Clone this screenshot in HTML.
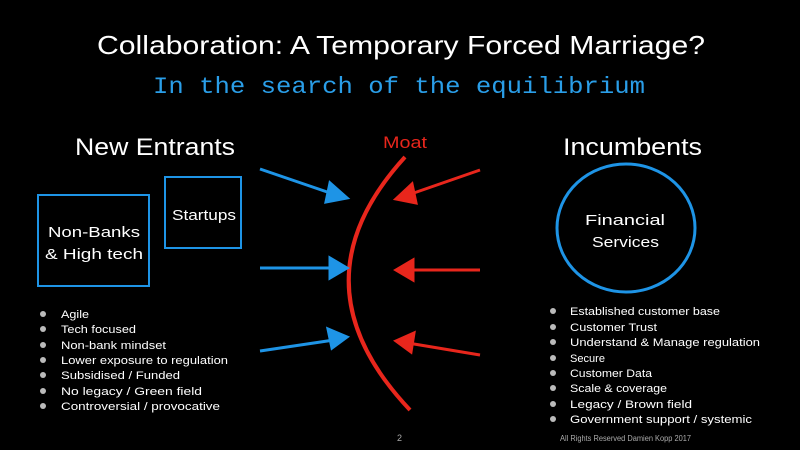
<!DOCTYPE html>
<html><head><meta charset="utf-8"><style>html,body{margin:0;padding:0;background:#000;}svg{display:block}</style></head>
<body>
<svg width="800" height="450" viewBox="0 0 800 450" xmlns="http://www.w3.org/2000/svg">
<rect width="800" height="450" fill="#000"/>
<g font-family="Liberation Sans, sans-serif" fill="#fff">
<text x="97" y="54" font-size="26" textLength="608" lengthAdjust="spacingAndGlyphs">Collaboration: A Temporary Forced Marriage?</text>
<text x="153" y="93" font-size="23" fill="#2a9ee8" font-family="Liberation Mono, monospace" textLength="492" lengthAdjust="spacingAndGlyphs">In the search of the equilibrium</text>
<text x="75" y="155" font-size="24" textLength="160" lengthAdjust="spacingAndGlyphs">New Entrants</text>
<text x="563" y="155" font-size="24" textLength="139" lengthAdjust="spacingAndGlyphs">Incumbents</text>
<text x="383" y="148" font-size="17" fill="#e8261c" textLength="44" lengthAdjust="spacingAndGlyphs">Moat</text>
</g>
<g fill="none" stroke="#1e94e6" stroke-width="2">
<rect x="38" y="195" width="111" height="91"/>
<rect x="165" y="177" width="76" height="71"/>
<ellipse cx="626" cy="228" rx="69" ry="64" stroke-width="3"/>
</g>
<g font-family="Liberation Sans, sans-serif" fill="#fff" font-size="15">
<text x="48" y="237" textLength="92" lengthAdjust="spacingAndGlyphs">Non-Banks</text>
<text x="45" y="259" textLength="98" lengthAdjust="spacingAndGlyphs">&amp; High tech</text>
<text x="172" y="220" textLength="64" lengthAdjust="spacingAndGlyphs">Startups</text>
<text x="585" y="225" textLength="80" lengthAdjust="spacingAndGlyphs">Financial</text>
<text x="592" y="247" textLength="67" lengthAdjust="spacingAndGlyphs">Services</text>
</g>
<path d="M405 157 Q290 283 410 410" fill="none" stroke="#e8261c" stroke-width="4"/>
<g stroke="#1e94e6" stroke-width="3" fill="#1e94e6">
<line x1="260" y1="169" x2="336" y2="195"/><polygon points="347,198 330,183 326,202"/>
<line x1="260" y1="268" x2="334" y2="268"/><polygon points="347,268 330,258 330,278"/>
<line x1="260" y1="351" x2="334" y2="340"/><polygon points="347,337 328,329 332,348"/>
</g>
<g stroke="#e8261c" stroke-width="3" fill="#e8261c">
<line x1="480" y1="170" x2="408" y2="195"/><polygon points="396,199 412,184 416,203"/>
<line x1="480" y1="270" x2="408" y2="270"/><polygon points="396,270 413,260 413,280"/>
<line x1="480" y1="355" x2="408" y2="343"/><polygon points="396,341 414,333 411,352"/>
</g>
<g fill="#bbb">
<circle cx="43" cy="314" r="3"/><circle cx="43" cy="329" r="3"/><circle cx="43" cy="345" r="3"/><circle cx="43" cy="360" r="3"/><circle cx="43" cy="375" r="3"/><circle cx="43" cy="391" r="3"/><circle cx="43" cy="406" r="3"/>
<circle cx="553" cy="311" r="3"/><circle cx="553" cy="327" r="3"/><circle cx="553" cy="342" r="3"/><circle cx="553" cy="358" r="3"/><circle cx="553" cy="373" r="3"/><circle cx="553" cy="388" r="3"/><circle cx="553" cy="404" r="3"/><circle cx="553" cy="419" r="3"/>
</g>
<g font-family="Liberation Sans, sans-serif" fill="#fff" font-size="11">
<text x="61" y="318" textLength="28" lengthAdjust="spacingAndGlyphs">Agile</text>
<text x="61" y="333" textLength="75" lengthAdjust="spacingAndGlyphs">Tech focused</text>
<text x="61" y="349" textLength="105" lengthAdjust="spacingAndGlyphs">Non-bank mindset</text>
<text x="61" y="364" textLength="167" lengthAdjust="spacingAndGlyphs">Lower exposure to regulation</text>
<text x="61" y="379" textLength="119" lengthAdjust="spacingAndGlyphs">Subsidised / Funded</text>
<text x="61" y="395" textLength="141" lengthAdjust="spacingAndGlyphs">No legacy / Green field</text>
<text x="61" y="410" textLength="159" lengthAdjust="spacingAndGlyphs">Controversial / provocative</text>
<text x="570" y="315" textLength="150" lengthAdjust="spacingAndGlyphs">Established customer base</text>
<text x="570" y="331" textLength="87" lengthAdjust="spacingAndGlyphs">Customer Trust</text>
<text x="570" y="346" textLength="190" lengthAdjust="spacingAndGlyphs">Understand &amp; Manage regulation</text>
<text x="570" y="362" textLength="35" lengthAdjust="spacingAndGlyphs">Secure</text>
<text x="570" y="377" textLength="82" lengthAdjust="spacingAndGlyphs">Customer Data</text>
<text x="570" y="392" textLength="97" lengthAdjust="spacingAndGlyphs">Scale &amp; coverage</text>
<text x="570" y="408" textLength="122" lengthAdjust="spacingAndGlyphs">Legacy / Brown field</text>
<text x="570" y="423" textLength="182" lengthAdjust="spacingAndGlyphs">Government support / systemic</text>
</g>
<g font-family="Liberation Sans, sans-serif" fill="#aaa">
<text x="397" y="441" font-size="9">2</text>
<text x="560" y="441" font-size="8" textLength="131" lengthAdjust="spacingAndGlyphs">All Rights Reserved Damien Kopp 2017</text>
</g>
</svg>
</body></html>
